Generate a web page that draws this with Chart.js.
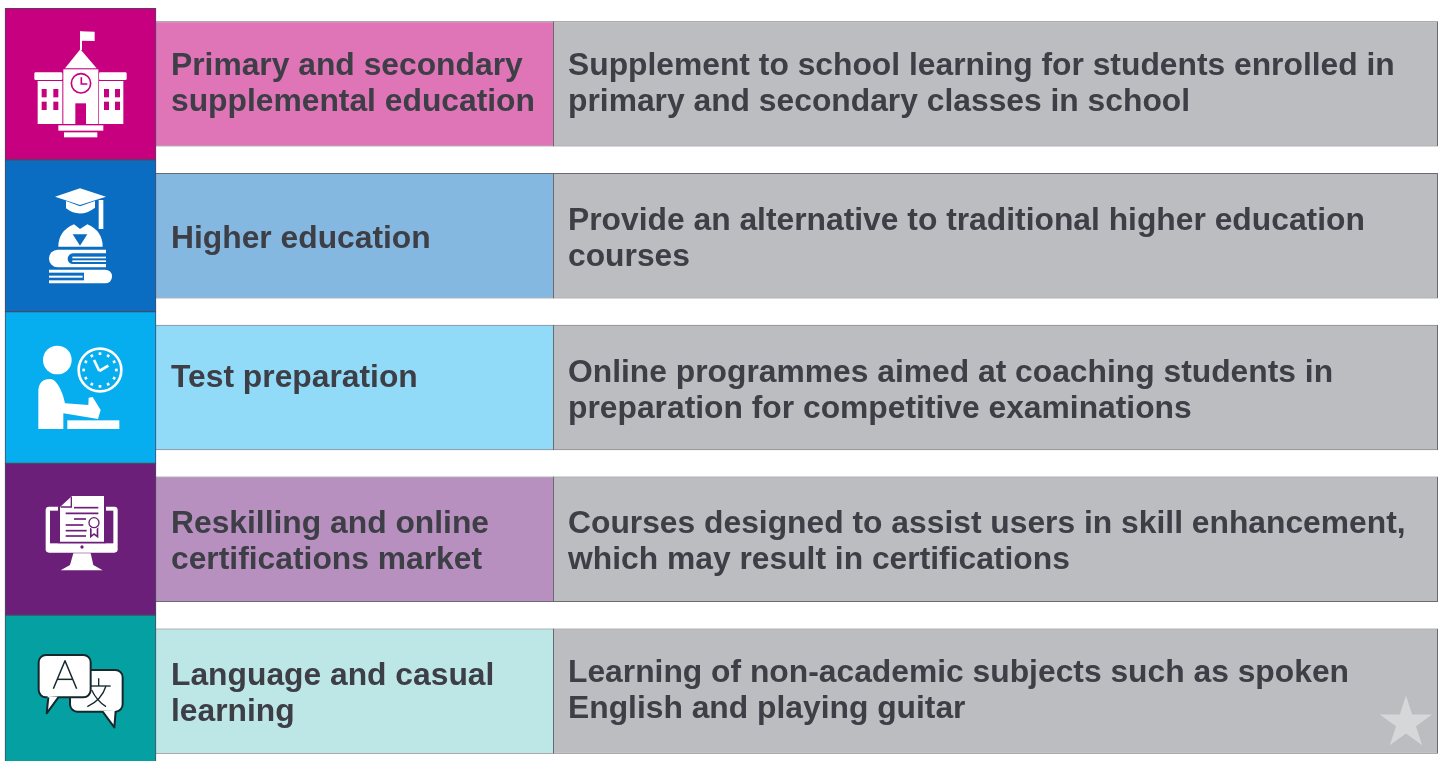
<!DOCTYPE html>
<html>
<head>
<meta charset="utf-8">
<script src="https://cdn.jsdelivr.net/npm/chart.js@4"></script>
<style>
html,body{margin:0;padding:0;background:#fff;overflow:hidden;width:1443px;height:761px}
#wrap{width:1443px;height:761px;overflow:hidden;position:relative}
canvas{display:block}
</style>
</head>
<body>
<div id="wrap"><canvas id="c" width="1443" height="775"></canvas></div>
<script>
const categories = ["Primary and secondary supplemental education","Higher education","Test preparation","Reskilling and online certifications market","Language and casual learning"];
const topicLines = [["Primary and secondary","supplemental education"],["Higher education"],["Test preparation"],["Reskilling and online","certifications market"],["Language and casual","learning"]];
const descLines = [["Supplement to school learning for students enrolled in","primary and secondary classes in school"],["Provide an alternative to traditional higher education","courses"],["Online programmes aimed at coaching students in","preparation for competitive examinations"],["Courses designed to assist users in skill enhancement,","which may result in certifications"],["Learning of non-academic subjects such as spoken","English and playing guitar"]];
const iconBand = [[5,156],[5,156],[5,156],[5,156],[5,156]];
const topicBand = [[155,554],[155,554],[155,554],[155,554],[155,554]];
const descBand = [[553,1438],[553,1438],[553,1438],[553,1438],[553,1438]];
const iconColors = ["#c6007e","#0a6dc1","#06adef","#6c1f78","#04a0a2"];
const topicColors = ["#df74b7","#85b8e1","#91dbf8","#b790bf","#bde6e6"];
const descColor = "#bcbdc0";

// text layout (not data)
const textColor = "#3d3e46";
const topicY = [[75,111],[248],[387],[533,569],[685,721]];
const descY = [[75,111],[230,266],[382,418],[533,569],[682,718]];
const textInset = [16,15];
const FONT = 'bold 31.8px "Liberation Sans", Arial, sans-serif';

function P(ctx,pts){ctx.beginPath();pts.forEach((p,i)=>i?ctx.lineTo(p[0],p[1]):ctx.moveTo(p[0],p[1]));ctx.closePath();ctx.fill();}
function R(ctx,x0,y0,x1,y1){ctx.fillRect(x0,y0,x1-x0,y1-y0);}
function RR(ctx,x0,y0,x1,y1,r){ctx.beginPath();ctx.roundRect(x0,y0,x1-x0,y1-y0,r);}
function C(ctx,x,y,r){ctx.beginPath();ctx.arc(x,y,r,0,Math.PI*2);ctx.fill();}
function L(ctx,a,b,c,d){ctx.beginPath();ctx.moveTo(a,b);ctx.lineTo(c,d);ctx.stroke();}

const icons = [
 function(ctx,bg){ // school
  ctx.fillStyle="#fff";
  R(ctx,240,95,246,150);
  P(ctx,[[240,94],[284,95],[284,123],[240,122]]);
  P(ctx,[[241,148],[195,205],[290,205]]);
  R(ctx,190,208,295,372);
  RR(ctx,103,217,187,240,4);ctx.fill();
  RR(ctx,297,217,380,240,4);ctx.fill();
  R(ctx,113,243,187,372);R(ctx,297,243,370,372);
  R(ctx,175,376,310,392);R(ctx,192,397,292,412);
  ctx.fillStyle=bg;
  R(ctx,226,310,258,372);
  [125,160,312,345].forEach(x=>{R(ctx,x,267,x+15,292);R(ctx,x,305,x+15,330);});
  ctx.strokeStyle=bg;ctx.lineWidth=5;
  ctx.beginPath();ctx.arc(243,250,29,0,Math.PI*2);ctx.stroke();
  ctx.beginPath();ctx.moveTo(244,232);ctx.lineTo(244,252);ctx.lineTo(262,252);ctx.stroke();
 },
 function(ctx,bg){ // graduate
  ctx.fillStyle="#fff";
  P(ctx,[[240,100],[318,125],[240,150],[165,125]]);
  ctx.beginPath();ctx.moveTo(198,138);ctx.lineTo(240,154);ctx.lineTo(285,138);ctx.lineTo(285,158);ctx.quadraticCurveTo(240,192,198,160);ctx.closePath();ctx.fill();
  R(ctx,296,135,310,222);
  ctx.beginPath();ctx.moveTo(175,275);ctx.quadraticCurveTo(175,228,222,208);ctx.lineTo(240,222);ctx.lineTo(262,208);ctx.quadraticCurveTo(308,228,308,275);ctx.closePath();ctx.fill();
  RR(ctx,147,284,318,337,[26,0,0,26]);ctx.fill();
  RR(ctx,147,344,336,385,[0,20,20,0]);ctx.fill();
  ctx.fillStyle=bg;
  P(ctx,[[218,238],[262,238],[240,272]]);
  RR(ctx,203,295,330,327,[16,0,0,16]);ctx.fill();
  R(ctx,140,353,252,376);
  ctx.fillStyle="#fff";
  R(ctx,217,305,318,310);R(ctx,217,316,318,321);
  R(ctx,147,362,248,368);
 },
 function(ctx,bg){ // test
  ctx.fillStyle="#fff";
  C(ctx,172,165,43);
  ctx.beginPath();ctx.moveTo(115,372);ctx.lineTo(115,260);ctx.quadraticCurveTo(115,222,150,222);ctx.quadraticCurveTo(172,222,190,275);ctx.lineTo(195,295);ctx.lineTo(265,300);ctx.lineTo(266,278);ctx.lineTo(278,276);ctx.lineTo(302,315);ctx.lineTo(294,342);ctx.lineTo(190,325);ctx.lineTo(190,372);ctx.closePath();ctx.fill();
  R(ctx,202,346,358,372);
  ctx.strokeStyle="#fff";ctx.lineWidth=8;
  ctx.beginPath();ctx.arc(300,195,64,0,Math.PI*2);ctx.stroke();
  ctx.lineWidth=8;
  for(let i=0;i<12;i++){const a=i*Math.PI/6;L(ctx,300+Math.cos(a)*45,195+Math.sin(a)*45,300+Math.cos(a)*53,195+Math.sin(a)*53);}
  ctx.lineWidth=8;
  L(ctx,298,198,282,165);L(ctx,298,198,325,182);
 },
 function(ctx,bg){ // certificate
  ctx.fillStyle="#fff";
  RR(ctx,137,140,353,278,10);ctx.fill();
  ctx.fillStyle=bg;
  R(ctx,150,152,340,250);
  C(ctx,246,261,5);
  ctx.fillStyle="#fff";
  P(ctx,[[220,280],[272,280],[280,315],[308,331],[182,331],[210,315]]);
  ctx.fillStyle=bg;
  P(ctx,[[212,103],[318,103],[318,250],[174,250],[174,140]]);
  ctx.fillStyle="#fff";
  P(ctx,[[216,108],[312,108],[312,245],[180,245],[180,141]]);
  ctx.strokeStyle=bg;ctx.lineWidth=4;
  ctx.beginPath();ctx.moveTo(214,110);ctx.lineTo(214,141);ctx.lineTo(182,141);ctx.stroke();
  ctx.lineWidth=5;
  L(ctx,222,143,295,143);L(ctx,197,160,295,160);L(ctx,222,177,258,177);L(ctx,197,195,250,195);L(ctx,197,212,260,212);L(ctx,197,228,258,228);
  ctx.fillStyle=bg;
  P(ctx,[[270,195],[295,195],[295,235],[282,225],[270,235]]);
  ctx.fillStyle="#fff";
  P(ctx,[[275,200],[290,200],[290,225],[282,219],[275,225]]);
  C(ctx,282,188,19);
  ctx.lineWidth=4;ctx.beginPath();ctx.arc(282,188,15,0,Math.PI*2);ctx.stroke();
 },
 function(ctx,bg){ // language
  const ink="#14282e";
  ctx.lineWidth=6;ctx.strokeStyle=ink;ctx.fillStyle="#fff";ctx.lineJoin="round";
  ctx.beginPath();ctx.roundRect(210,180,158,125,22);ctx.fill();ctx.stroke();
  ctx.beginPath();ctx.moveTo(308,303);ctx.lineTo(343,352);ctx.lineTo(347,300);ctx.closePath();ctx.fill();
  ctx.beginPath();ctx.moveTo(308,305);ctx.lineTo(343,352);ctx.lineTo(347,303);ctx.stroke();
  ctx.lineWidth=4;
  L(ctx,262,228,332,228);L(ctx,296,205,296,228);
  ctx.beginPath();ctx.moveTo(318,228);ctx.quadraticCurveTo(305,270,262,290);ctx.stroke();
  ctx.beginPath();ctx.moveTo(275,240);ctx.quadraticCurveTo(290,272,318,290);ctx.stroke();
  ctx.lineWidth=6;
  ctx.beginPath();ctx.roundRect(116,135,156,127,22);ctx.fill();ctx.stroke();
  ctx.beginPath();ctx.moveTo(143,258);ctx.lineTo(140,310);ctx.lineTo(175,260);ctx.closePath();ctx.fill();
  ctx.beginPath();ctx.moveTo(145,262);ctx.lineTo(140,310);ctx.lineTo(175,262);ctx.stroke();
  ctx.lineWidth=4.5;
  ctx.beginPath();ctx.moveTo(160,236);ctx.lineTo(195,152);ctx.lineTo(230,236);ctx.stroke();
  L(ctx,172,208,218,208);
 }
];
const iconOrigins = [0,155,305,460,610];

const overlay = {
  id:"overlay",
  afterDatasetsDraw(chart){
    const ctx=chart.ctx, x=chart.scales.x;
    ctx.save();
    ctx.filter="blur(0.5px)";
    ctx.font=FONT;ctx.fillStyle=textColor;ctx.textBaseline="alphabetic";ctx.textAlign="left";
    topicLines.forEach((ls,i)=>ls.forEach((t,j)=>ctx.fillText(t,x.getPixelForValue(topicBand[i][0])+textInset[0],topicY[i][j])));
    descLines.forEach((ls,i)=>ls.forEach((t,j)=>ctx.fillText(t,x.getPixelForValue(descBand[i][0])+textInset[1],descY[i][j])));
    ctx.restore();
    icons.forEach((fn,i)=>{
      ctx.save();
      ctx.filter="blur(0.4px)";
      ctx.translate(0,iconOrigins[i]);ctx.scale(1/3,1/3);
      fn(ctx,iconColors[i]);
      ctx.restore();
    });
    // watermark star
    ctx.save();ctx.fillStyle="#d6d7d9";ctx.beginPath();
    for(let k=0;k<10;k++){const r=k%2?10.5:27.5,a=-Math.PI/2+k*Math.PI/5,px=1406+r*Math.cos(a),py=723+r*Math.sin(a);k?ctx.lineTo(px,py):ctx.moveTo(px,py);}
    ctx.closePath();ctx.fill();ctx.restore();
  }
};

new Chart(document.getElementById("c"),{
  type:"bar",
  data:{labels:categories,datasets:[
    {label:"Icon",data:iconBand,backgroundColor:iconColors,borderColor:"#4a4a60",borderWidth:1,borderSkipped:false,barPercentage:1,categoryPercentage:1,grouped:false},
    {label:"Segment",data:topicBand,backgroundColor:topicColors,borderColor:"#6a6a70",borderWidth:1,borderSkipped:false,barPercentage:0.826,categoryPercentage:1,grouped:false},
    {label:"Description",data:descBand,backgroundColor:descColor,borderColor:"#6a6a70",borderWidth:1,borderSkipped:false,barPercentage:0.826,categoryPercentage:1,grouped:false}
  ]},
  options:{
    indexAxis:"y",responsive:false,animation:false,
    layout:{padding:{top:8,bottom:8,left:0,right:0}},
    plugins:{legend:{display:false},tooltip:{enabled:false}},
    scales:{
      x:{type:"linear",min:0,max:1443,display:false},
      y:{type:"category",display:false}
    }
  },
  plugins:[overlay]
});
</script>
</body>
</html>
